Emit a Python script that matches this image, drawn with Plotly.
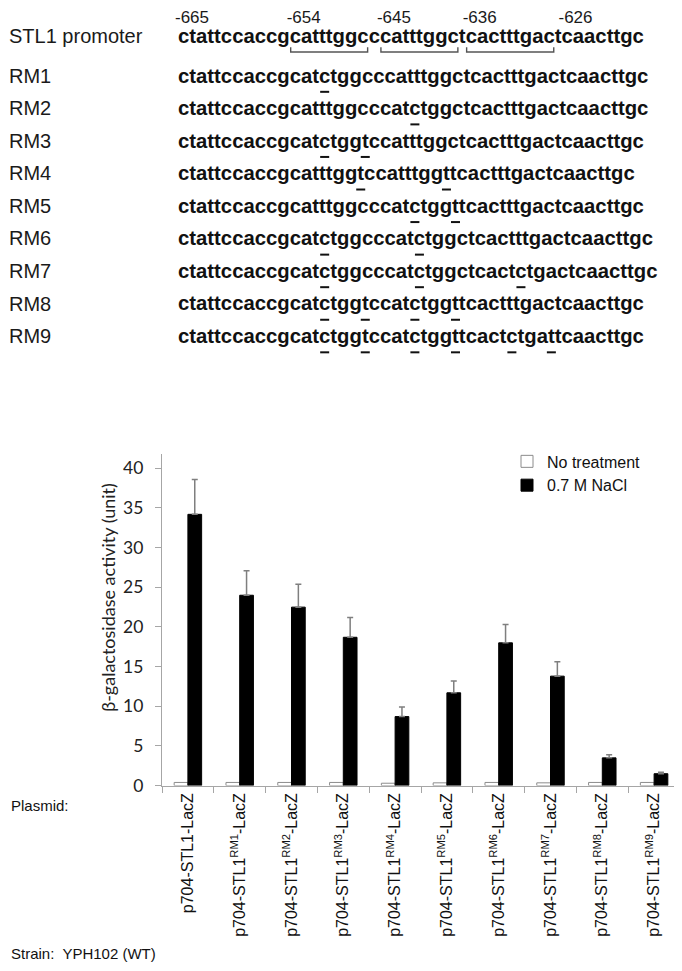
import plotly.graph_objects as go

# STL1 promoter fragment (-665 .. -619) and the nine mutated versions
row_names = ['STL1 promoter', 'RM1', 'RM2', 'RM3', 'RM4', 'RM5', 'RM6', 'RM7', 'RM8', 'RM9']
sequences = [
    'ctattccaccgcatttggcccatttggctcactttgactcaacttgc',
    'ctattccaccgcatctggcccatttggctcactttgactcaacttgc',
    'ctattccaccgcatttggcccatctggctcactttgactcaacttgc',
    'ctattccaccgcatctggtccatttggctcactttgactcaacttgc',
    'ctattccaccgcatttggtccatttggttcactttgactcaacttgc',
    'ctattccaccgcatttggcccatctggttcactttgactcaacttgc',
    'ctattccaccgcatctggcccatctggctcactttgactcaacttgc',
    'ctattccaccgcatctggcccatctggctcactctgactcaacttgc',
    'ctattccaccgcatctggtccatctggttcactttgactcaacttgc',
    'ctattccaccgcatctggtccatctggttcactctgattcaacttgc',
]
first_coord = -665
label_pos = [1, 12, 21, 30, 40]
motif_start = [12, 21, 30]
motif_len = [8, 8, 9]

# beta-galactosidase assay
plasmids = ['p704-STL1-LacZ'] + ['p704-STL1<sup>RM%d</sup>-LacZ' % i for i in range(1, 10)]
no_treatment = [0.4, 0.4, 0.4, 0.4, 0.3, 0.35, 0.4, 0.35, 0.4, 0.4]
nacl = [34.2, 24.0, 22.5, 18.7, 8.7, 11.7, 18.0, 13.8, 3.5, 1.5]
nacl_err = [4.4, 3.1, 2.9, 2.5, 1.2, 1.5, 2.3, 1.8, 0.4, 0.2]

# page geometry: the page sits 8px in from the left edge
OFFX, OFFY = 8, 0
FW, FH = 682 - OFFX, 971 - OFFY


def px(x):
    return (x - OFFX) / FW


def py(y):
    return 1 - (y - OFFY) / FH


# sequence panel (window pixels)
LEFT = OFFX + 1
SEQ_LEFT = 178
FS = 20.3
NAME_FS = 20
NUM_FS = 17
BASE0 = 35.3
BASE1 = 75.3
PITCH = 32.9
NUM_BASE = 15
WIDTH = {'a': 0.556, 'c': 0.556, 'g': 0.611, 't': 0.333}


def char_lefts(seq):
    lefts, x = [], SEQ_LEFT
    for ch in seq:
        lefts.append(x)
        x += WIDTH[ch] * FS
    return lefts


def baseline(i):
    return BASE0 if i == 0 else BASE1 + (i - 1) * PITCH


fig = go.Figure()

# row names
fig.add_trace(go.Scatter(
    x=[LEFT] * len(row_names), y=[baseline(i) - 0.25 * NAME_FS for i in range(len(row_names))],
    text=row_names, mode='text', textposition='middle right', cliponaxis=False,
    textfont=dict(family='Liberation Sans', size=NAME_FS, color='#1a1a1a'),
    xaxis='x2', yaxis='y2', showlegend=False, hoverinfo='skip'))

# nucleotides, one text per letter; the changed ones get a dash below
cx, cy, ct = [], [], []
ux, uy = [], []
wt = sequences[0]
for i, seq in enumerate(sequences):
    lefts = char_lefts(seq)
    b = baseline(i)
    for k, ch in enumerate(seq):
        c = lefts[k] + WIDTH[ch] * FS / 2
        cx.append(c)
        cy.append(b - 0.25 * FS)
        ct.append(ch)
        if ch != wt[k]:
            ux += [c - 4.5, c + 4.5, None]
            uy += [b + 9.4, b + 9.4, None]

fig.add_trace(go.Scatter(
    x=cx, y=cy, text=ct, mode='text', textposition='middle center', cliponaxis=False,
    textfont=dict(family='Liberation Sans', size=FS, color='#111111', weight='bold'),
    xaxis='x2', yaxis='y2', showlegend=False, hoverinfo='skip'))

fig.add_trace(go.Scatter(
    x=ux, y=uy, mode='lines', line=dict(color='#111111', width=2), cliponaxis=False,
    xaxis='x2', yaxis='y2', showlegend=False, hoverinfo='skip'))

# brackets under the three motifs of the wild type
lefts0 = char_lefts(wt)
bx, by = [], []
b0 = baseline(0)
for s, n in zip(motif_start, motif_len):
    x0 = lefts0[s - 1] + 1
    last = s + n - 2
    x1 = lefts0[last] + WIDTH[wt[last]] * FS - 1
    bx += [x0, x0, x1, x1, None]
    by += [b0 + 4.4, b0 + 9.2, b0 + 9.2, b0 + 4.4, None]

fig.add_trace(go.Scatter(
    x=bx, y=by, mode='lines', line=dict(color='#555555', width=1.4), cliponaxis=False,
    xaxis='x2', yaxis='y2', showlegend=False, hoverinfo='skip'))

# coordinate labels
fig.add_trace(go.Scatter(
    x=[lefts0[p - 1] - 3 for p in label_pos], y=[NUM_BASE - 0.25 * NUM_FS] * len(label_pos),
    text=[str(first_coord + p - 1) for p in label_pos], mode='text', textposition='middle right',
    cliponaxis=False,
    textfont=dict(family='Liberation Sans', size=NUM_FS, color='#1a1a1a'),
    xaxis='x2', yaxis='y2', showlegend=False, hoverinfo='skip'))

# bars
fig.add_trace(go.Bar(
    x=plasmids, y=no_treatment, name='No treatment',
    marker=dict(color='white', line=dict(color='#8c8c8c', width=1))))
fig.add_trace(go.Bar(
    x=plasmids, y=nacl, name='0.7 M NaCl',
    marker=dict(color='black', line=dict(color='black', width=1)),
    error_y=dict(type='data', array=nacl_err, arrayminus=[0] * len(nacl_err), symmetric=False,
                 color='#7f7f7f', thickness=1.5, width=3)))

axis_col = '#a6a6a6'
fig.update_layout(
    width=FW, height=FH,
    margin=dict(l=0, r=0, t=0, b=0),
    paper_bgcolor='white', plot_bgcolor='rgba(0,0,0,0)',
    barmode='group', bargap=0.47, bargroupgap=0,
    xaxis=dict(domain=[px(162), px(680)], anchor='y', showline=True, linecolor=axis_col, linewidth=1.3,
               ticks='outside', tickson='boundaries', ticklen=6, tickcolor=axis_col,
               tickangle=-90, tickfont=dict(family='Liberation Sans', size=16, color='#111111'),
               showgrid=False, zeroline=False),
    yaxis=dict(domain=[py(785.7), py(450.7)], anchor='x', range=[0, 41.8],
               tickmode='linear', tick0=0, dtick=5, showline=True, linecolor=axis_col, linewidth=1.3,
               ticks='outside', ticklen=6, tickcolor=axis_col, ticklabelstandoff=8,
               tickfont=dict(family='Lato', size=17.5, color='#222222'),
               showgrid=False, zeroline=False),
    xaxis2=dict(domain=[0, 1], range=[OFFX, OFFX + FW], anchor='y2', visible=False, fixedrange=True),
    yaxis2=dict(domain=[0, 1], range=[OFFY + FH, OFFY], anchor='x2', visible=False, fixedrange=True),
    legend=dict(x=px(507), y=py(441), xanchor='left', yanchor='top',
                font=dict(family='Liberation Sans', size=16, color='#111111'),
                bgcolor='rgba(0,0,0,0)'),
    annotations=[
        dict(text='β-galactosidase activity (unit)', textangle=-90, x=px(108), y=py(595),
             xref='paper', yref='paper', xanchor='center', yanchor='middle', showarrow=False,
             font=dict(family='Lato', size=18, color='#222222')),
        dict(text='Plasmid:', x=px(LEFT), y=py(806), xref='paper', yref='paper',
             xanchor='left', yanchor='middle', showarrow=False,
             font=dict(family='Liberation Sans', size=15, color='#111111')),
        dict(text='Strain:  YPH102 (WT)', x=px(LEFT), y=py(955), xref='paper', yref='paper',
             xanchor='left', yanchor='middle', showarrow=False,
             font=dict(family='Liberation Sans', size=15, color='#111111')),
    ],
)

fig.write_html('out.html')
